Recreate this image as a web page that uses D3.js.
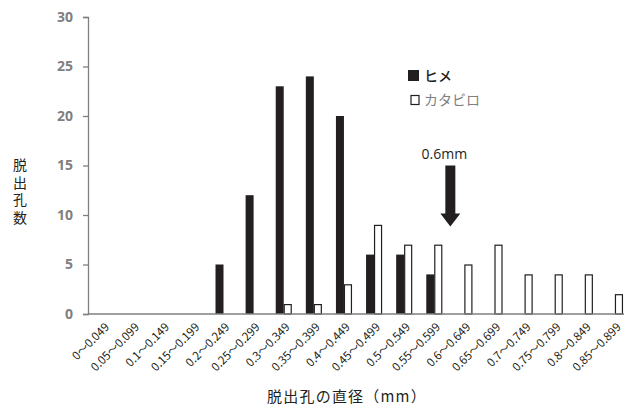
<!DOCTYPE html>
<html><head><meta charset="utf-8">
<script src="https://cdn.jsdelivr.net/npm/d3@7"></script>
<style>body{margin:0;background:#fff}svg{display:block}</style>
</head><body><svg id="c" width="624" height="406"></svg>
<script>
const categories = ["0～0.049","0.05～0.099","0.1～0.149","0.15～0.199","0.2～0.249","0.25～0.299","0.3～0.349","0.35～0.399","0.4～0.449","0.45～0.499","0.5～0.549","0.55～0.599","0.6～0.649","0.65～0.699","0.7～0.749","0.75～0.799","0.8～0.849","0.85～0.899"];
const hime = [0,0,0,0,5,12,23,24,20,6,6,4,0,0,0,0,0,0];
const katabiro = [0,0,0,0,0,0,1,1,3,9,7,7,5,7,4,4,4,2];
const yTicks = [0,5,10,15,20,25,30];
const seriesNames = ["ヒメ","カタビロ"];
const arrowLabel = "0.6mm";
const arrowValue = 15;
const arrowCategory = "0.6～0.649";

(function(){
const svg = d3.select("#c");
const mL = 88, mR = 630, mT = 17, mB = 314;
const x = d3.scaleBand().domain(categories).range([mL, mR]).paddingInner(0).paddingOuter(0);
const y = d3.scaleLinear().domain([0,30]).range([mB, mT]);
const bw = 8;
const axisColor = "#7f7f7f";
const font = "'Noto Sans CJK JP','Noto Sans',sans-serif";

categories.forEach((c,i)=>{
  const cx = x(c) + x.bandwidth()/2;
  if (hime[i] > 0) svg.append("rect").attr("x", cx - bw).attr("y", y(hime[i])).attr("width", bw).attr("height", y(0)-y(hime[i])).attr("fill","#231f20");
  if (katabiro[i] > 0) svg.append("rect").attr("x", cx+0.5).attr("y", y(katabiro[i])+0.5).attr("width", bw-1).attr("height", y(0)-y(katabiro[i])-0.5).attr("fill","#fff").attr("stroke","#231f20").attr("stroke-width",1.2);
});

const ya = svg.append("g").attr("transform",`translate(${mL},0)`)
  .call(d3.axisLeft(y).tickValues(yTicks).tickSize(5).tickPadding(10));
ya.select(".domain").attr("stroke",axisColor).attr("stroke-width",1.3);
ya.selectAll(".tick line").attr("stroke",axisColor).attr("stroke-width",1.3);
ya.selectAll(".tick text").attr("fill","#7f7f7f").attr("font-family","'Open Sans','Noto Sans',sans-serif").attr("font-weight","bold").attr("font-size",14);

svg.append("line").attr("x1",mL).attr("x2",624).attr("y1",mB).attr("y2",mB).attr("stroke",axisColor).attr("stroke-width",1.3);

categories.forEach((c)=>{
  const cx = x(c) + x.bandwidth()/2 + 4;
  svg.append("text").attr("transform",`translate(${cx},${mB+11}) rotate(-45)`)
    .attr("text-anchor","end").attr("dy","0.35em")
    .attr("font-family",font).attr("font-size",11.5).attr("fill","#231f20").text(c);
});

svg.append("text").attr("transform","translate(20,158)")
  .attr("writing-mode","tb").attr("style","writing-mode:vertical-rl")
  .attr("letter-spacing",3.5)
  .attr("font-family",font).attr("font-size",14).attr("fill","#231f20").text("脱出孔数");

svg.append("text").attr("x",347).attr("y",402).attr("text-anchor","middle")
  .attr("letter-spacing",1.2)
  .attr("font-family",font).attr("font-size",15).attr("fill","#231f20").text("脱出孔の直径（mm）");

svg.append("rect").attr("x",408).attr("y",70).attr("width",11).attr("height",11).attr("fill","#231f20");
svg.append("text").attr("x",424).attr("y",81).attr("font-family",font).attr("font-size",14).attr("font-weight","500").attr("fill","#231f20").text(seriesNames[0]);
svg.append("rect").attr("x",411).attr("y",95.5).attr("width",8).attr("height",9).attr("fill","#fff").attr("stroke","#231f20").attr("stroke-width",1.2);
svg.append("text").attr("x",424).attr("y",105).attr("font-family",font).attr("font-size",14).attr("fill","#808080").text(seriesNames[1]);

const ax = x(arrowCategory) + 1;
const ay = y(arrowValue);
svg.append("path").attr("d",`M${ax-5},${ay} L${ax+5},${ay} L${ax+5},${ay+48} L${ax+10},${ay+48} L${ax},${ay+61} L${ax-10},${ay+48} L${ax-5},${ay+48} Z`).attr("fill","#231f20");
svg.append("text").attr("x",ax-6).attr("y",159).attr("text-anchor","middle").attr("font-family","'Open Sans','Noto Sans',sans-serif").attr("font-size",14).attr("fill","#231f20").text(arrowLabel);
})();
</script></body></html>
